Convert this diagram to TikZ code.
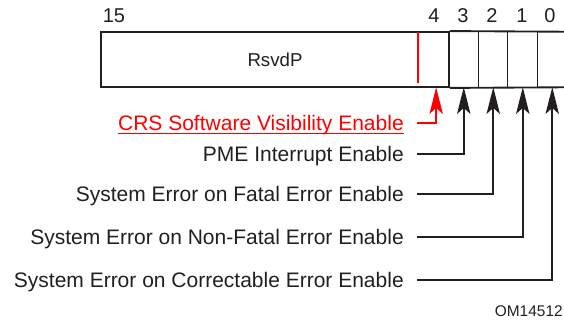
\documentclass[tikz,border=0pt]{standalone}
\usepackage{fontspec}
\setmainfont{Liberation Sans}
\usetikzlibrary{arrows.meta,positioning}
\definecolor{ink}{RGB}{35,31,32}
\definecolor{flag}{RGB}{255,0,0}

\begin{document}
\begin{tikzpicture}[x=0.75pt,y=-0.75pt,
      field/.style={
         draw=ink,
         line width=1.4pt,
         inner sep=0pt,
         minimum height=41.25pt,
         font=\fontsize{14}{16}\selectfont,
         text=ink},
      cell/.style={inner sep=0pt, minimum width=22.125pt, minimum height=41.25pt},
      bitnum/.style={anchor=base, inner sep=0pt, text=ink,
         font=\fontsize{15}{17}\selectfont},
      lbl/.style={anchor=east, inner sep=0pt, text height=11.3pt,
         text depth=0pt, text=ink, font=\fontsize{15.75}{18}\selectfont},
      myarrow/.style={-{Stealth[length=20pt,width=10pt,inset=4.5pt]},
         draw=ink, line width=1.2pt},
      redarrow/.style={myarrow, draw=flag}
      ]
      \useasboundingbox (0,0) rectangle (564,324);

      \node[field, minimum width=261pt] (rsvd) at (275,59.5) {RsvdP};
      \node[cell, minimum width=23.25pt] (b4) at (433.5,59.5) {};
      \node[cell] (b3) at (463.75,59.5) {};
      \node[cell] (b2) at (493.25,59.5) {};
      \node[cell] (b1) at (522.75,59.5) {};
      \node[cell] (b0) at (552.25,59.5) {};
      \draw[ink, line width=1.4pt] (rsvd.north east) -- (b0.north east)
         (rsvd.south east) -- (b0.south east);
      \foreach \c in {b2,b1,b0}
         \draw[ink, line width=1.1pt] (\c.north west) -- (\c.south west);

      \node[bitnum] (n15) at (114,23) {15};
      \foreach \i/\x in {4/434,3/463,2/492,1/522,0/550}
         \node[bitnum] (n\i) at (\x,23) {\i};

      % bit 4 marked in red
      \draw[flag, line width=1.5pt] (b4.north west) -- ([yshift=3pt]b4.south west);

      \node[lbl, text=flag] (crs) at (404,123) {CRS Software Visibility Enable};
      \draw[flag, line width=1.1pt] ([yshift=-2.2pt]crs.south west) -- ([yshift=-2.2pt]crs.south east);
      \draw[redarrow] ([xshift=10pt]crs.east) -| ([xshift=2pt]b4.south);

      \foreach \nm/\y/\txt/\b in {% name/row/text/bit
         pme/154/PME Interrupt Enable/3,
         fat/194/System Error on Fatal Error Enable/2,
         nft/237/System Error on Non-Fatal Error Enable/1,
         cor/280/System Error on Correctable Error Enable/0}{
         \node[lbl] (\nm) at (404,\y) {\txt};
         \draw[myarrow] ([xshift=10pt]\nm.east) -| (b\b.south);
      }

      \node[anchor=base east, inner sep=0pt, text=ink,
         font=\fontsize{11.6}{13}\selectfont] (om) at (563,316) {OM14512};
\end{tikzpicture}
\end{document}
